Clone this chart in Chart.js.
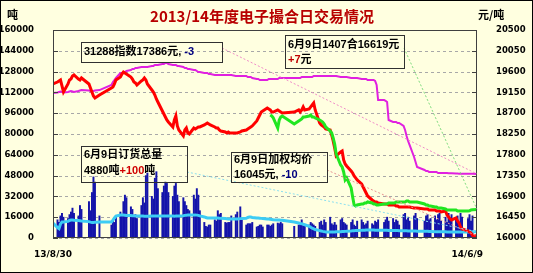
<!DOCTYPE html>
<html>
<head>
<meta charset="utf-8">
<script src="https://cdn.jsdelivr.net/npm/chart.js@4.4.0/dist/chart.umd.min.js"></script>
<style>
  html, body { margin: 0; padding: 0; background: #fff; }
  #wrap { width: 533px; height: 273px; }
</style>
</head>
<body>
<div id="wrap"><canvas id="c" width="533" height="273"></canvas></div>
<script>
// trading calendar
const startDate = '2013-08-30';
const endDate = '2014-06-09';
const holidays = ['2013-09-19', '2013-09-20', '2013-10-01', '2013-10-02', '2013-10-03', '2013-10-04', '2013-10-07',
  '2014-01-01', '2014-01-31', '2014-02-03', '2014-02-04', '2014-02-05', '2014-02-06', '2014-04-07',
  '2014-05-01', '2014-05-02', '2014-06-02'];
const xLabels = ['13/8/30', '14/6/9'];

// daily volume, tons (left axis)
const volume = [
  11500,
  14000, 12000, 17000, 19000, 16000, 15000, 18000, 20000, 23000, 19000, 17000, 25000, 22000, 28000, 21000, 35000, 47000, 43000, 17000,
  10000, 14000, 12000, 16000, 20000, 18000, 28000, 33000, 31000, 24000, 22000, 17000, 18000, 15000, 25000, 31000, 27000, 48000,
  50000, 32000, 30000, 46000, 51000, 38000, 35000, 40000, 43000, 42000, 35000, 32000, 40000, 42000, 33000, 28000, 31000, 28000, 25000, 22000, 21000,
  33000, 30000, 38000, 33000, 21000, 12000, 9000, 8500, 10000, 10000, 14000, 13000, 21000, 18000, 19000, 12000, 11500, 12000, 12000, 17000, 18000, 20000,
  24000, 15000, 10000, 11000, 11000, 11000, 12000, 8500, 9000, 10000, 10000, 8500, 10000, 10000, 9000, 10000, 11000, 11500, 11000, 12000, 11000,
  9000, 10000, 11000, 14000, 10000, 9000, 10000, 12000, 11000, 10000, 9000, 12000, 13000, 10000, 14000, 12000,
  16000, 11000, 10000, 12000, 10000, 14000, 15000, 12000, 11000, 10000, 12000, 14000, 10000, 9000, 13000, 14000, 12000, 10000, 11000, 13000, 11000,
  10000, 13000, 12000, 14000, 12000, 14000, 16000, 13000, 15000, 12000, 14000, 13000, 10000, 18000, 19000, 14000, 16000, 13000, 17000, 19000, 15000,
  13000, 17000, 18000, 14000, 15000, 17000, 14000, 18000, 19000, 13000, 16000, 12000, 19000, 15000, 18000, 14000, 17000, 12000, 19000, 16000,
  15000, 18000, 13000, 17000, 15000
];

// open interest, tons (left axis)
const openInterest = [
  11500,
  8000, 7200, 10800, 12300, 12300, 12800, 13500, 13800, 13800, 13600, 13400, 13200, 13000, 12600, 12200, 12000, 12000, 12200, 12300,
  12300, 13800, 15400, 16900, 17700, 17700, 17700, 17500, 17300, 17300, 17200, 17200, 17000, 17000, 16900, 16900, 16800, 16800,
  16800, 16900, 16900, 17000, 16900, 16900, 16900, 16900, 17000, 16900, 16900, 16900, 16800, 16900, 17000, 17000, 17200, 17400, 17500, 17600, 17600,
  17600, 17700, 17600, 17400, 17000, 16200, 15800, 15400, 15400, 15300, 15300, 15400, 15300, 15200, 15100, 15000, 14800, 14700, 14600, 14600, 14600, 14700,
  14900, 15000, 15200, 15800, 16100, 16100, 15800, 15400, 15300, 15200, 15100, 15000, 14700, 14600, 14400, 14200, 14000, 13900, 13800, 13700, 13600,
  12300, 11500, 11200, 11000, 10600, 10200, 9000, 8200, 7500, 7000, 6500, 5700, 5400, 5100, 4900, 4700,
  4600, 4600, 4700, 4700, 4800, 4900, 5000, 5000, 5100, 5200, 5400, 5500, 5600, 5700, 5800, 5900, 6000, 6000, 6100, 6100, 6100,
  6100, 6000, 6000, 6000, 6000, 5900, 5900, 5800, 5800, 5800, 5700, 5700, 5600, 5600, 5500, 5500, 5400, 5400, 5300, 5300, 5200,
  5200, 5100, 5100, 5000, 5000, 4900, 4900, 4900, 4800, 4800, 4800, 4700, 4700, 4700, 4700, 4700, 4600, 4600, 4600, 4600,
  4600, 4700, 4700, 4780, 4880
];

// weighted average price, yuan/ton (right axis)
const avgPrice = [
  19332,
  19375, 19397, 19418, 19289, 19159, 19332, 19418, 19440, 19505, 19527, 19440, 19418, 19462, 19332, 19246, 19159, 19072, 19029, 19094,
  19246, 19267, 19332, 19418, 19483, 19548, 19592, 19570, 19548, 19483, 19440, 19375, 19354, 19310, 19397, 19418, 19462, 19418,
  19332, 19202, 19159, 19094, 19007, 18943, 18748, 18683, 18618, 18553, 18510, 18402, 18553, 18640, 18424, 18337, 18208, 18337, 18380, 18272, 18251,
  18380, 18359, 18380, 18402, 18402, 18445, 18467, 18488, 18467, 18445, 18402, 18380, 18380, 18337, 18315, 18294, 18272, 18294, 18272, 18272, 18272, 18272,
  18294, 18315, 18337, 18359, 18380, 18402, 18424, 18532, 18597, 18661, 18726, 18748, 18813, 18791, 18770, 18726, 18726, 18770, 18748, 18726, 18705,
  18726, 18770, 18726, 18770, 18835, 18770, 18791, 18835, 18878, 18921, 18770, 18488, 18445, 18424, 18402, 18359,
  18337, 18229, 18100, 17948, 17775, 17861, 17883, 17688, 17602, 17558, 17450, 17407, 17342, 17299, 17256, 17169, 17104, 17039, 16974, 16909, 16823,
  16802, 16780, 16780, 16758, 16736, 16736, 16736, 16715, 16715, 16715, 16693, 16693, 16671, 16671, 16671, 16671, 16671, 16671, 16650, 16650, 16650,
  16628, 16628, 16628, 16607, 16607, 16607, 16585, 16585, 16585, 16563, 16585, 16499, 16455, 16412, 16390, 16434, 16369, 16325, 16239, 16196,
  16153, 16131, 16109, 16055, 16045
];

// 1407 contract, yuan/ton (right axis), from 2014-01-22
const contractPrice = [
  18661, 18640, 18600, 18380, 18553, 18618, 18640,
  18467, 18532, 18553, 18575, 18618, 18618, 18640, 18661, 18618, 18618, 18597, 18553, 18532, 18510, 18467, 18402,
  18315, 18272, 18164, 18034, 17818, 17580, 17537, 17429, 17256, 17299, 17083, 16888, 16715, 16693, 16715, 16736, 16736, 16758, 16758, 16780, 16758,
  16736, 16736, 16715, 16715, 16736, 16736, 16736, 16758, 16758, 16758, 16780, 16780, 16780, 16780, 16780, 16802, 16802, 16780, 16780, 16780, 16780,
  16736, 16715, 16715, 16693, 16693, 16671, 16671, 16650, 16650, 16650, 16628, 16607, 16607, 16607, 16607, 16607, 16585, 16585, 16585, 16585,
  16585, 16590, 16607, 16612, 16619
];

// index, yuan/ton (right axis)
const indexPrice = [
  19137,
  19150, 19160, 19170, 19160, 19150, 19160, 19170, 19180, 19170, 19160, 19180, 19190, 19200, 19190, 19180, 19170, 19180, 19190, 19200,
  19310, 19375, 19418, 19462, 19570, 19570, 19592, 19592, 19613, 19635, 19657, 19657, 19678, 19678, 19700, 19700, 19700, 19700,
  19700, 19722, 19722, 19743, 19743, 19743, 19765, 19765, 19786, 19786, 19765, 19743, 19743, 19743, 19722, 19722, 19700, 19678, 19678, 19657, 19657,
  19635, 19635, 19613, 19592, 19592, 19570, 19570, 19570, 19548, 19548, 19527, 19527, 19527, 19527, 19527, 19527, 19527, 19527, 19527, 19527, 19505, 19505,
  19505, 19505, 19505, 19483, 19483, 19483, 19462, 19440, 19440, 19418, 19418, 19418, 19418, 19440, 19440, 19440, 19440, 19440, 19462, 19462, 19462,
  19462, 19462, 19462, 19483, 19483, 19483, 19483, 19483, 19483, 19505, 19505, 19505, 19505, 19505, 19505, 19505,
  19505, 19505, 19505, 19505, 19505, 19483, 19483, 19483, 19483, 19483, 19462, 19462, 19462, 19462, 19462, 19440, 19440, 19440, 19440, 19418, 19418,
  19418, 19397, 19310, 18986, 18986, 18965, 18943, 18553, 18510, 18510, 18510, 18488, 18488, 18424, 18337, 18207, 18099, 18013, 17753, 17645, 17537,
  17472, 17450, 17450, 17429, 17429, 17429, 17429, 17407, 17407, 17407, 17407, 17407, 17400, 17400, 17400, 17395, 17395, 17392, 17392, 17390,
  17390, 17390, 17389, 17389, 17386
];

function dayNum(s) {
  const [y, m, d] = s.split('-').map(Number);
  return Date.UTC(y, m - 1, d) / 86400000;
}
const day0 = dayNum(startDate);
const lastDay = dayNum(endDate) - day0;
const tradeDays = [];
for (let t = day0; t <= day0 + lastDay; t++) {
  const dt = new Date(t * 86400000);
  const wd = dt.getUTCDay();
  if (wd === 0 || wd === 6 || holidays.includes(dt.toISOString().slice(0, 10))) continue;
  tradeDays.push(t - day0);
}
const pts = (vals) => {
  const off = tradeDays.length - vals.length;
  return vals.map((v, i) => ({ x: tradeDays[i + off], y: v }));
};
const last = (a) => a[a.length - 1];
const diff = (a) => a[a.length - 1] - a[a.length - 2];
const signed = (n) => (n > 0 ? '+' : '') + n;

const BG = '#FFFFE0';
const axisFont = { family: 'DejaVu Sans', size: 8.5, weight: 'bold' };
const noteFont = 'bold 11px "Liberation Sans", "Noto Sans CJK SC"';

const notes = [
  { box: [81, 42, 141, 20], lines: [[['31288指数' + last(indexPrice) + '元, ', '#000'], [signed(diff(indexPrice)), '#000080']]],
    textX: 84, textY: [52], from: [222, 48], axis: 'y1', vals: indexPrice, color: '#F08CC8' },
  { box: [285, 35, 119, 33], lines: [[['6月9日1407合' + last(contractPrice) + '元', '#000']], [[signed(diff(contractPrice)), '#C00000'], ['元', '#000']]],
    textX: 288, textY: [45, 60], from: [404, 48], axis: 'y1', vals: contractPrice, color: '#80DC80' },
  { box: [81, 146, 106, 36], lines: [[['6月9日订货总量', '#000']], [[last(openInterest) + '吨', '#000'], [signed(diff(openInterest)), '#D00000'], ['吨', '#000']]],
    textX: 84, textY: [155, 171], from: [187, 172], axis: 'y', vals: openInterest, color: '#8CE0F0' },
  { box: [231, 152, 96, 30], lines: [[['6月9日加权均价', '#000']], [[last(avgPrice) + '元, ', '#000'], [signed(diff(avgPrice)), '#000080']]],
    textX: 234, textY: [160, 175], from: [327, 170], axis: 'y1', vals: avgPrice, color: '#E89494' }
];

const decor = {
  id: 'decor',
  beforeDraw(chart) {
    const c = chart.ctx;
    c.save();
    c.fillStyle = BG;
    c.fillRect(0, 0, chart.width, chart.height);
    c.restore();
  },
  beforeDatasetsDraw(chart) {
    const { ctx: c, chartArea: a, scales } = chart;
    c.save();
    c.strokeStyle = '#A8A8A8';
    c.lineWidth = 1;
    c.setLineDash([3, 3]);
    scales.y.ticks.forEach(t => {
      const py = Math.round(scales.y.getPixelForValue(t.value)) + 0.5;
      c.beginPath(); c.moveTo(a.left, py); c.lineTo(a.right, py); c.stroke();
    });
    c.restore();
  },
  afterDatasetsDraw(chart) {
    const { ctx: c, chartArea: a, scales } = chart;
    c.save();
    // plot frame + inward ticks
    c.strokeStyle = '#404040';
    c.lineWidth = 1;
    c.strokeRect(a.left + 0.5, a.top + 0.5, a.right - a.left - 1, a.bottom - a.top - 1);
    c.beginPath();
    scales.y.ticks.forEach(t => {
      const py = Math.round(scales.y.getPixelForValue(t.value)) + 0.5;
      c.moveTo(a.left, py); c.lineTo(a.left + 5, py);
    });
    scales.y1.ticks.forEach(t => {
      const py = Math.round(scales.y1.getPixelForValue(t.value)) + 0.5;
      c.moveTo(a.right - 5, py); c.lineTo(a.right, py);
    });
    c.stroke();

    // connectors
    c.lineWidth = 1;
    c.setLineDash([2, 2]);
    notes.forEach(n => {
      const ex = scales.x.getPixelForValue(lastDay);
      const ey = scales[n.axis].getPixelForValue(last(n.vals));
      c.strokeStyle = n.color;
      c.beginPath(); c.moveTo(n.from[0], n.from[1]); c.lineTo(ex, ey); c.stroke();
    });
    c.setLineDash([]);

    // note boxes
    c.font = noteFont;
    c.textBaseline = 'middle';
    c.textAlign = 'left';
    notes.forEach(n => {
      c.strokeStyle = '#303030';
      c.strokeRect(n.box[0] + 0.5, n.box[1] + 0.5, n.box[2], n.box[3]);
      n.lines.forEach((segs, li) => {
        let x = n.textX;
        segs.forEach(([txt, col]) => {
          c.fillStyle = col;
          c.fillText(txt, x, n.textY[li]);
          x += c.measureText(txt).width;
        });
      });
    });

    // title and units
    c.fillStyle = '#B80000';
    c.font = 'bold 15px "Noto Sans CJK SC"';
    c.textAlign = 'center';
    c.fillText('2013/14年度电子撮合日交易情况', 262, 16);
    c.fillStyle = '#000';
    c.font = 'bold 11px "Noto Sans CJK SC"';
    c.textAlign = 'left';
    c.fillText('吨', 7, 15);
    c.fillText('元/吨', 478, 15);

    // x labels
    c.font = 'bold 9px "DejaVu Sans"';
    c.textAlign = 'center';
    c.fillText(xLabels[0], scales.x.getPixelForValue(0), 255);
    c.textAlign = 'right';
    c.fillText(xLabels[1], scales.x.getPixelForValue(lastDay) + 6, 255);

    // outer border
    c.strokeStyle = '#000';
    c.strokeRect(0.5, 0.5, chart.width - 1, chart.height - 1);
    c.restore();
  }
};

const plain = (v) => String(v);

const ctx = document.getElementById('c').getContext('2d');
const chart = new Chart(ctx, {
  type: 'bar',
  data: {
    datasets: [
      { type: 'line', label: '1407合约', data: pts(contractPrice), yAxisID: 'y1',
        borderColor: '#20E620', borderWidth: 3, pointRadius: 0, order: 1 },
      { type: 'line', label: '加权均价', data: pts(avgPrice), yAxisID: 'y1',
        borderColor: '#FF0000', borderWidth: 3, pointRadius: 0, order: 2 },
      { type: 'line', label: '指数', data: pts(indexPrice), yAxisID: 'y1',
        borderColor: '#E020E0', borderWidth: 2, pointRadius: 0, order: 3 },
      { type: 'line', label: '订货总量', data: pts(openInterest), yAxisID: 'y',
        borderColor: '#3CCCF4', borderWidth: 3, pointRadius: 0, order: 4 },
      { type: 'bar', label: '成交量', data: pts(volume), yAxisID: 'y',
        backgroundColor: '#1414AA', barThickness: 1.3, order: 5 }
    ]
  },
  options: {
    responsive: false,
    animation: false,
    layout: { padding: { top: 30, bottom: 35, left: 0, right: 0 } },
    plugins: { legend: { display: false }, tooltip: { enabled: false }, title: { display: false } },
    scales: {
      x: { type: 'linear', min: 0, max: lastDay, offset: false, display: false, grid: { offset: false } },
      y: {
        position: 'left', min: 0, max: 160000,
        ticks: { stepSize: 16000, padding: 11, color: '#000', font: axisFont, callback: plain },
        grid: { display: false }, border: { display: false },
        afterFit(s) { s.width = 53; }
      },
      y1: {
        position: 'right', min: 16000, max: 20500,
        ticks: { stepSize: 450, padding: 11, color: '#000', font: axisFont, callback: plain },
        grid: { display: false }, border: { display: false },
        afterFit(s) { s.width = 56; }
      }
    }
  },
  plugins: [decor]
});
</script>
</body>
</html>
